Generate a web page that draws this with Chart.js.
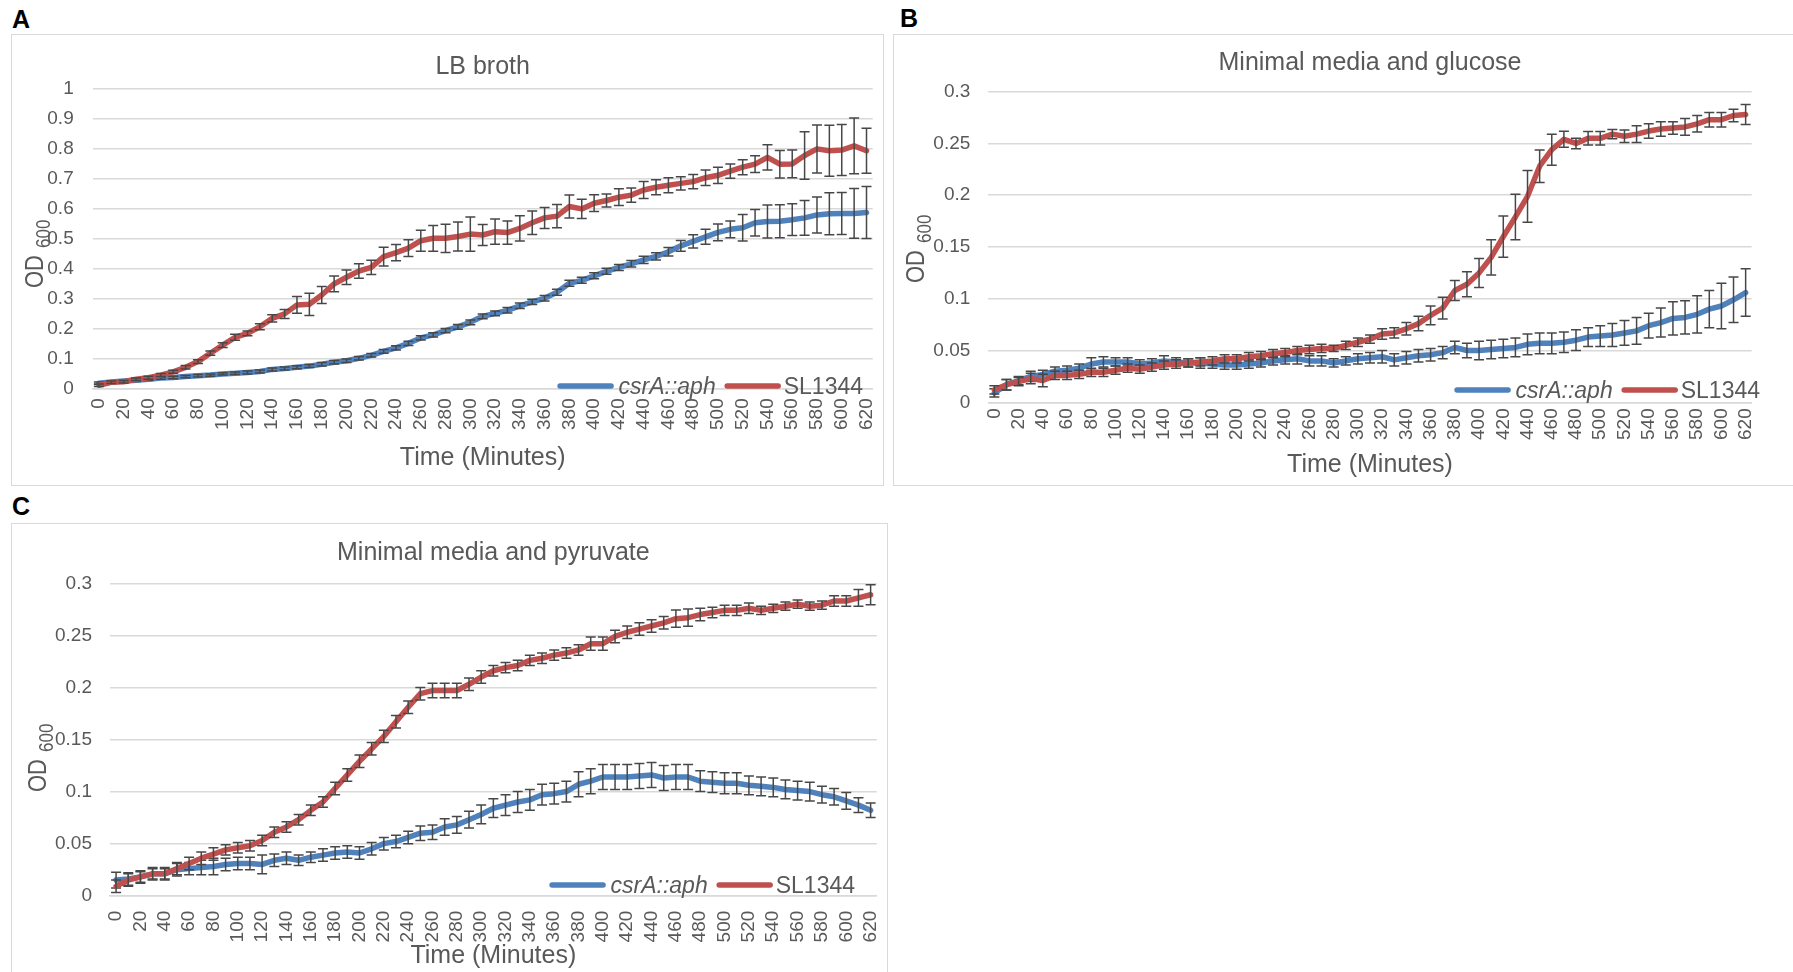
<!DOCTYPE html>
<html lang="en">
<head>
    <meta charset="UTF-8">
    <title>csrA::aph vs SL1344 growth curves</title>
    <script src="https://cdn.jsdelivr.net/npm/chart.js@4.4.1/dist/chart.umd.min.js"></script>
    <style>
        body {
            margin: 0;
            width: 1793px;
            height: 972px;
            overflow: hidden;
            background: #ffffff;
            position: relative;
            font-family: 'Liberation Sans', Arial, sans-serif;
        }
        .frame {
            position: absolute;
            border: 1.5px solid #d9d9d9;
            box-sizing: border-box;
        }
        .letter {
            position: absolute;
            font-size: 25px;
            line-height: 25px;
            font-weight: bold;
            color: #000;
        }
        canvas {
            position: absolute;
        }
    </style>
</head>
<body>
    <div class="letter" style="left:12px;top:7px;">A</div>
    <div class="letter" style="left:900px;top:6px;">B</div>
    <div class="letter" style="left:12px;top:494px;">C</div>

    <div class="frame" style="left:11px;top:34px;width:873px;height:452px;"></div>
    <div class="frame" style="left:893px;top:34px;width:910px;height:452px;"></div>
    <div class="frame" style="left:11px;top:523px;width:877px;height:470px;"></div>

    <canvas id="chartA" width="872" height="451" style="left:11px;top:34px;"></canvas>
    <canvas id="chartB" width="900" height="451" style="left:893px;top:34px;"></canvas>
    <canvas id="chartC" width="876" height="449" style="left:11px;top:523px;"></canvas>

    <script>
        // time points (minutes), one every 10 min
        const times = [0, 10, 20, 30, 40, 50, 60, 70, 80, 90, 100, 110, 120, 130, 140, 150, 160, 170, 180, 190,
            200, 210, 220, 230, 240, 250, 260, 270, 280, 290, 300, 310, 320, 330, 340, 350, 360, 370, 380, 390,
            400, 410, 420, 430, 440, 450, 460, 470, 480, 490, 500, 510, 520, 530, 540, 550, 560, 570, 580, 590,
            600, 610, 620];

        const seriesNames = ['csrA::aph', 'SL1344'];

        // A - LB broth
        const lbMutant = [0.017, 0.021, 0.024, 0.027, 0.03, 0.034, 0.036, 0.039, 0.042, 0.044,
            0.048, 0.05, 0.053, 0.056, 0.063, 0.066, 0.07, 0.074, 0.08, 0.087,
            0.092, 0.1, 0.11, 0.123, 0.135, 0.15, 0.168, 0.178, 0.192, 0.205,
            0.22, 0.24, 0.25, 0.26, 0.275, 0.288, 0.3, 0.32, 0.35, 0.36,
            0.375, 0.39, 0.403, 0.415, 0.428, 0.44, 0.455, 0.475, 0.49, 0.505,
            0.52, 0.53, 0.535, 0.552, 0.556, 0.557, 0.562, 0.568, 0.578, 0.582,
            0.583, 0.583, 0.586];
        const lbMutantErr = [0.004, 0.004, 0.004, 0.004, 0.004, 0.004, 0.004, 0.004, 0.004, 0.004,
            0.004, 0.004, 0.005, 0.005, 0.005, 0.005, 0.005, 0.005, 0.006, 0.006,
            0.006, 0.006, 0.006, 0.006, 0.007, 0.007, 0.007, 0.007, 0.007, 0.008,
            0.008, 0.008, 0.008, 0.009, 0.009, 0.009, 0.009, 0.01, 0.01, 0.01,
            0.01, 0.01, 0.01, 0.011, 0.012, 0.012, 0.014, 0.018, 0.022, 0.025,
            0.028, 0.028, 0.044, 0.044, 0.055, 0.055, 0.053, 0.058, 0.06, 0.07,
            0.07, 0.083, 0.087];
        const lbWild = [0.01, 0.02, 0.022, 0.03, 0.035, 0.044, 0.055, 0.07, 0.089, 0.117,
            0.144, 0.17, 0.183, 0.205, 0.233, 0.248, 0.278, 0.28, 0.311, 0.348,
            0.37, 0.391, 0.403, 0.439, 0.452, 0.467, 0.492, 0.5, 0.5, 0.506,
            0.514, 0.511, 0.522, 0.519, 0.533, 0.552, 0.568, 0.574, 0.606, 0.598,
            0.617, 0.626, 0.637, 0.644, 0.661, 0.67, 0.677, 0.683, 0.689, 0.702,
            0.71, 0.724, 0.737, 0.747, 0.77, 0.747, 0.748, 0.776, 0.798, 0.792,
            0.794, 0.808, 0.792];
        const lbWildErr = [0.004, 0.004, 0.004, 0.004, 0.005, 0.005, 0.005, 0.006, 0.006, 0.007,
            0.008, 0.01, 0.008, 0.01, 0.012, 0.015, 0.028, 0.037, 0.028, 0.026,
            0.024, 0.024, 0.024, 0.031, 0.027, 0.028, 0.035, 0.043, 0.047, 0.048,
            0.057, 0.035, 0.042, 0.039, 0.042, 0.039, 0.035, 0.039, 0.038, 0.032,
            0.028, 0.022, 0.028, 0.024, 0.028, 0.025, 0.025, 0.022, 0.024, 0.026,
            0.027, 0.024, 0.025, 0.028, 0.042, 0.046, 0.046, 0.079, 0.08, 0.085,
            0.085, 0.093, 0.075];

        // B - minimal media and glucose
        const gluMutant = [0.009, 0.017, 0.021, 0.025, 0.027, 0.03, 0.031, 0.033, 0.037, 0.039,
            0.039, 0.039, 0.037, 0.038, 0.04, 0.039, 0.038, 0.038, 0.037, 0.036,
            0.036, 0.037, 0.038, 0.04, 0.041, 0.042, 0.04, 0.04, 0.038, 0.04,
            0.042, 0.043, 0.044, 0.041, 0.043, 0.045, 0.046, 0.048, 0.053, 0.05,
            0.05, 0.051, 0.052, 0.053, 0.056, 0.057, 0.057, 0.058, 0.06, 0.063,
            0.064, 0.065, 0.067, 0.069, 0.074, 0.077, 0.081, 0.082, 0.085, 0.09,
            0.093, 0.099, 0.106];
        const gluMutantErr = [0.004, 0.005, 0.004, 0.005, 0.004, 0.004, 0.004, 0.004, 0.006, 0.005,
            0.004, 0.004, 0.004, 0.004, 0.005, 0.004, 0.004, 0.005, 0.004, 0.004,
            0.004, 0.004, 0.004, 0.004, 0.004, 0.005, 0.005, 0.005, 0.004, 0.004,
            0.005, 0.005, 0.006, 0.006, 0.006, 0.006, 0.006, 0.006, 0.006, 0.007,
            0.009, 0.009, 0.009, 0.009, 0.01, 0.01, 0.01, 0.01, 0.01, 0.009,
            0.01, 0.011, 0.012, 0.013, 0.012, 0.014, 0.016, 0.016, 0.018, 0.018,
            0.022, 0.022, 0.023];
        const gluWild = [0.012, 0.017, 0.02, 0.023, 0.021, 0.026, 0.026, 0.027, 0.029, 0.029,
            0.031, 0.033, 0.032, 0.034, 0.036, 0.037, 0.038, 0.039, 0.04, 0.042,
            0.042, 0.044, 0.045, 0.047, 0.048, 0.05, 0.051, 0.052, 0.052, 0.055,
            0.058, 0.061, 0.066, 0.067, 0.071, 0.076, 0.084, 0.091, 0.108, 0.114,
            0.125, 0.14, 0.16, 0.179, 0.199, 0.228, 0.244, 0.254, 0.25, 0.255,
            0.255, 0.259, 0.257, 0.259, 0.262, 0.264, 0.265, 0.266, 0.269, 0.273,
            0.273, 0.277, 0.278];
        const gluWildErr = [0.004, 0.005, 0.004, 0.005, 0.006, 0.004, 0.004, 0.004, 0.004, 0.004,
            0.004, 0.004, 0.004, 0.004, 0.004, 0.004, 0.004, 0.004, 0.004, 0.004,
            0.004, 0.004, 0.004, 0.004, 0.004, 0.004, 0.004, 0.004, 0.003, 0.004,
            0.004, 0.004, 0.005, 0.005, 0.006, 0.007, 0.009, 0.0105, 0.0097, 0.012,
            0.014, 0.017, 0.02, 0.022, 0.025, 0.0156, 0.015, 0.0077, 0.005, 0.0065,
            0.0065, 0.0045, 0.006, 0.008, 0.007, 0.007, 0.006, 0.008, 0.008, 0.007,
            0.007, 0.006, 0.0097];

        // C - minimal media and pyruvate
        const pyrMutant = [0.015, 0.016, 0.018, 0.021, 0.021, 0.025, 0.026, 0.027, 0.028, 0.03,
            0.031, 0.031, 0.03, 0.034, 0.036, 0.034, 0.037, 0.039, 0.041, 0.042,
            0.041, 0.045, 0.05, 0.052, 0.056, 0.06, 0.061, 0.066, 0.068, 0.073,
            0.078, 0.084, 0.087, 0.09, 0.092, 0.097, 0.098, 0.1, 0.107, 0.11,
            0.114, 0.114, 0.114, 0.115, 0.116, 0.113, 0.114, 0.114, 0.11, 0.109,
            0.108, 0.108, 0.106, 0.105, 0.104, 0.102, 0.101, 0.1, 0.097, 0.095,
            0.091, 0.087, 0.082];
        const pyrMutantErr = [0.0075, 0.006, 0.006, 0.006, 0.006, 0.006, 0.006, 0.007, 0.008, 0.006,
            0.006, 0.006, 0.009, 0.006, 0.006, 0.005, 0.005, 0.006, 0.006, 0.006,
            0.006, 0.006, 0.006, 0.006, 0.006, 0.007, 0.007, 0.008, 0.008, 0.008,
            0.009, 0.009, 0.01, 0.01, 0.01, 0.01, 0.01, 0.01, 0.012, 0.012,
            0.012, 0.012, 0.012, 0.012, 0.012, 0.012, 0.012, 0.012, 0.01, 0.01,
            0.01, 0.01, 0.009, 0.009, 0.009, 0.009, 0.009, 0.009, 0.008, 0.008,
            0.008, 0.007, 0.007];
        const pyrWild = [0.009, 0.015, 0.018, 0.021, 0.021, 0.026, 0.031, 0.036, 0.04, 0.044,
            0.046, 0.048, 0.053, 0.061, 0.066, 0.073, 0.082, 0.09, 0.103, 0.116,
            0.129, 0.141, 0.153, 0.167, 0.181, 0.194, 0.197, 0.197, 0.197, 0.203,
            0.21, 0.216, 0.219, 0.221, 0.226, 0.228, 0.231, 0.233, 0.236, 0.242,
            0.242, 0.249, 0.253, 0.256, 0.259, 0.262, 0.266, 0.267, 0.27, 0.272,
            0.274, 0.274, 0.276, 0.274, 0.276, 0.278, 0.28, 0.278, 0.279, 0.283,
            0.283, 0.286, 0.289];
        const pyrWildErr = [0.006, 0.006, 0.005, 0.005, 0.005, 0.006, 0.006, 0.006, 0.006, 0.005,
            0.005, 0.005, 0.005, 0.005, 0.005, 0.005, 0.005, 0.005, 0.006, 0.006,
            0.006, 0.006, 0.006, 0.006, 0.006, 0.006, 0.007, 0.007, 0.007, 0.006,
            0.006, 0.005, 0.005, 0.005, 0.005, 0.005, 0.005, 0.005, 0.005, 0.0064,
            0.0064, 0.006, 0.006, 0.006, 0.006, 0.006, 0.0083, 0.0083, 0.006, 0.005,
            0.005, 0.005, 0.005, 0.004, 0.004, 0.004, 0.004, 0.004, 0.004, 0.005,
            0.005, 0.008, 0.0096];

        const FONT = "'Liberation Sans', Arial, sans-serif";
        const TEXT = '#595959';
        const GRID = '#d9d9d9';
        const BLUE = '#4f81bd';
        const RED = '#c0504d';

        Chart.defaults.font.family = FONT;

        // error bars after each line, legend inside the plot, and OD600 axis title
        const extras = {
            id: 'extras',
            afterDatasetDraw(chart, args) {
                const ds = chart.data.datasets[args.index];
                if (!ds.errors) return;
                const yScale = chart.scales.y;
                const ctx = chart.ctx;
                ctx.save();
                ctx.strokeStyle = '#474747';
                ctx.lineWidth = 1.5;
                args.meta.data.forEach((pt, i) => {
                    const v = ds.data[i], e = ds.errors[i];
                    const top = yScale.getPixelForValue(v + e);
                    const bot = yScale.getPixelForValue(v - e);
                    ctx.beginPath();
                    ctx.moveTo(pt.x, top); ctx.lineTo(pt.x, bot);
                    ctx.moveTo(pt.x - 5, top); ctx.lineTo(pt.x + 5, top);
                    ctx.moveTo(pt.x - 5, bot); ctx.lineTo(pt.x + 5, bot);
                    ctx.stroke();
                });
                ctx.restore();
            },
            afterDraw(chart, args, opts) {
                const ctx = chart.ctx;
                const ds = chart.data.datasets;
                ctx.save();

                // legend
                const fs = 23;
                ctx.font = `italic ${fs}px ${FONT}`;
                const w1 = ctx.measureText(ds[0].label).width;
                ctx.font = `${fs}px ${FONT}`;
                const w2 = ctx.measureText(ds[1].label).width;
                const total = 56 + 5 + w1 + 9 + 56 + 3 + w2;
                let x = opts.legendRight - total;
                const y = opts.legendY;
                ctx.lineCap = 'round';
                ctx.lineWidth = 5.5;
                ctx.fillStyle = TEXT;
                ctx.textBaseline = 'alphabetic';
                ctx.textAlign = 'left';

                ctx.strokeStyle = ds[0].borderColor;
                ctx.beginPath(); ctx.moveTo(x + 2.5, y); ctx.lineTo(x + 53.5, y); ctx.stroke();
                x += 61;
                ctx.font = `italic ${fs}px ${FONT}`;
                ctx.fillText(ds[0].label, x, y + 8);
                x += w1 + 9;
                ctx.strokeStyle = ds[1].borderColor;
                ctx.beginPath(); ctx.moveTo(x + 2.5, y); ctx.lineTo(x + 53.5, y); ctx.stroke();
                x += 59;
                ctx.font = `${fs}px ${FONT}`;
                ctx.fillText(ds[1].label, x, y + 8);

                // OD600 title, rotated; glyphs a bit taller like the original
                ctx.translate(opts.odX, opts.odY);
                ctx.rotate(-Math.PI / 2);
                ctx.scale(1, 1.2);
                ctx.font = `22px ${FONT}`;
                ctx.fillText('OD', 0, 0);
                const wOD = ctx.measureText('OD').width;
                ctx.font = `17px ${FONT}`;
                ctx.fillText('600', wOD + 7, 6);
                ctx.restore();
            }
        };
        Chart.register(extras);

        const yLabel = v => String(Math.round(v * 100) / 100);

        function makePanel(id, title, mutant, mutantErr, wild, wildErr, p) {
            const ctx = document.getElementById(id).getContext('2d');
            return new Chart(ctx, {
                type: 'line',
                data: {
                    labels: times,
                    datasets: [{
                        label: seriesNames[0],
                        data: mutant,
                        errors: mutantErr,
                        borderColor: BLUE,
                        borderWidth: 5.5,
                        borderCapStyle: 'round',
                        borderJoinStyle: 'round',
                        pointRadius: 0,
                        tension: 0,
                        order: 2
                    }, {
                        label: seriesNames[1],
                        data: wild,
                        errors: wildErr,
                        borderColor: RED,
                        borderWidth: 5.5,
                        borderCapStyle: 'round',
                        borderJoinStyle: 'round',
                        pointRadius: 0,
                        tension: 0,
                        order: 1
                    }]
                },
                options: {
                    responsive: false,
                    animation: false,
                    layout: { padding: { left: 0, right: p.right, top: 0, bottom: 0 } },
                    plugins: {
                        legend: { display: false },
                        tooltip: { enabled: false },
                        title: {
                            display: true,
                            text: title,
                            fullSize: false,
                            color: TEXT,
                            font: { size: 25, weight: 'normal' },
                            padding: { top: p.titleTop, bottom: p.titleBottom }
                        },
                        extras: { legendRight: p.legendRight, legendY: p.legendY, odX: p.odX, odY: p.odY }
                    },
                    scales: {
                        x: {
                            type: 'category',
                            offset: true,
                            grid: { display: false, drawTicks: false },
                            border: { color: GRID, width: 1.5 },
                            ticks: {
                                autoSkip: false,
                                minRotation: 90,
                                maxRotation: 90,
                                padding: p.xPad,
                                color: TEXT,
                                font: { size: 19 },
                                callback: (v, i) => (i % 2 === 0 ? String(times[i]) : '')
                            },
                            title: {
                                display: true,
                                text: 'Time (Minutes)',
                                color: TEXT,
                                font: { size: 25 },
                                padding: { top: 0, bottom: p.xTitleBottom }
                            },
                            afterFit: s => {
                                s.height = p.xHeight;
                                // labels may hang over the plot edges, as in the original
                                s.paddingLeft = 0;
                                s.paddingRight = 0;
                            }
                        },
                        y: {
                            min: 0,
                            max: p.yMax,
                            ticks: { stepSize: p.yStep, padding: p.yPad, color: TEXT, font: { size: 19 }, callback: yLabel },
                            grid: { color: GRID, lineWidth: 1.5, drawTicks: false },
                            border: { display: false },
                            afterFit: s => { s.width = p.yWidth; }
                        }
                    }
                }
            });
        }

        makePanel('chartA', 'LB broth', lbMutant, lbMutantErr, lbWild, lbWildErr, {
            right: 10.3, titleTop: 18.3, titleBottom: 6, xHeight: 96.7, xPad: 10, xTitleBottom: 11.7,
            yWidth: 81.7, yPad: 19, yMax: 1, yStep: 0.1,
            legendRight: 852, legendY: 352, odX: 31.7, odY: 254
        });
        makePanel('chartB', 'Minimal media and glucose', gluMutant, gluMutantErr, gluWild, gluWildErr, {
            right: 41.3, titleTop: 14, titleBottom: 13.7, xHeight: 82.7, xPad: 6, xTitleBottom: 4.7,
            yWidth: 95.3, yPad: 18, yMax: 0.3, yStep: 0.05,
            legendRight: 867, legendY: 356, odX: 31, odY: 249
        });
        makePanel('chartC', 'Minimal media and pyruvate', pyrMutant, pyrMutantErr, pyrWild, pyrWildErr, {
            right: 10.3, titleTop: 15, titleBottom: 15.3, xHeight: 76.3, xPad: 15, xTitleBottom: 0.7,
            yWidth: 99, yPad: 18, yMax: 0.3, yStep: 0.05,
            legendRight: 844, legendY: 362, odX: 35, odY: 269
        });
    </script>
</body>
</html>
